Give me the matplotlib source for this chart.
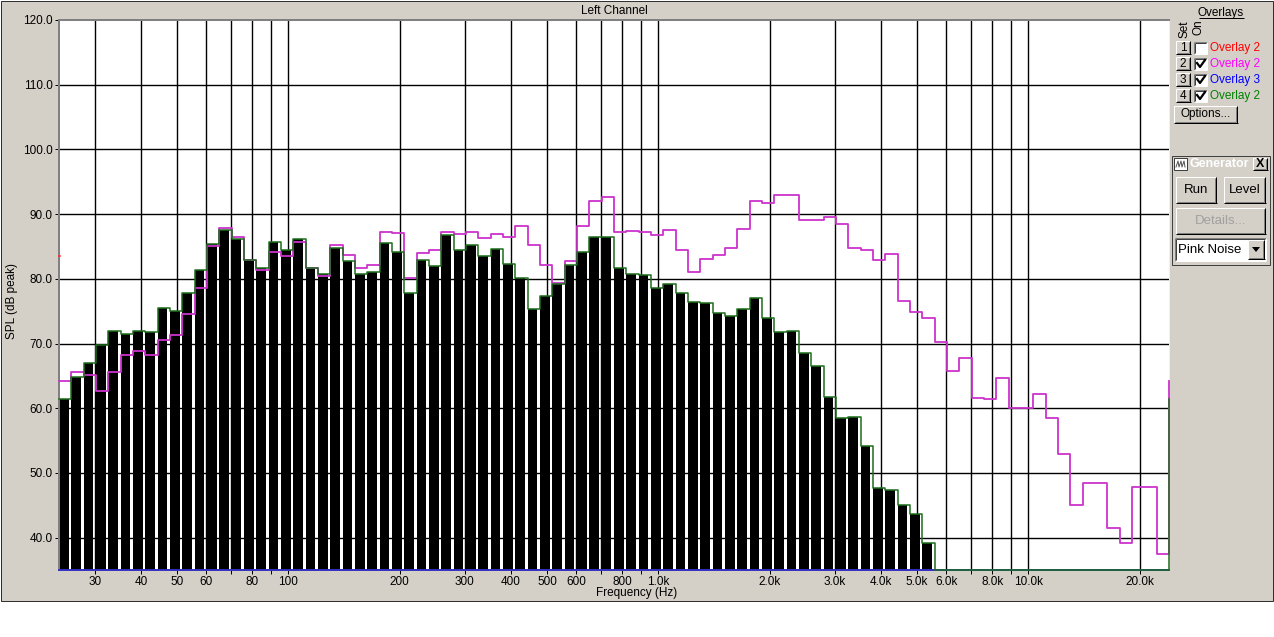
import numpy as np
import matplotlib
matplotlib.use("Agg")
import matplotlib.pyplot as plt
from matplotlib.patches import Rectangle, Polygon
from matplotlib.lines import Line2D

# ---------------- data ----------------
BAND_START_HZ = 24.0          # analyzer bands: 1/30 decade from 24 Hz
BANDS_PER_DECADE = 30
N_BANDS = 90

# current measurement (black bars, outlined by the green overlay)
spl_bars = [61.4, 64.9, 67.0, 69.7, 72.0, 71.4, 72.0, 71.8, 75.5, 75.0,
            77.8, 81.3, 85.4, 87.6, 86.2, 82.9, 81.6, 85.7, 84.5, 86.2,
            81.7, 80.8, 84.7, 82.8, 80.8, 81.1, 85.5, 84.2, 77.8, 82.9,
            82.0, 86.7, 84.5, 85.2, 83.5, 84.6, 82.3, 80.1, 75.4, 77.4,
            79.2, 82.2, 84.2, 86.5, 86.5, 81.7, 80.7, 80.6, 78.6, 79.2,
            77.8, 76.4, 76.3, 74.7, 74.3, 75.4, 77.1, 74.0, 71.8, 71.9,
            68.6, 66.5, 61.7, 58.5, 58.6, 54.2, 47.6, 47.4, 45.1, 43.7,
            39.1]
# green overlay beyond the bars sits on the floor of the plot
overlay_green_tail = [35.0, 35.0, 35.0, 35.0, 35.0, 35.0, 35.0, 35.0, 35.0, 35.0,
                      35.0, 35.0, 35.0, 35.0, 35.0, 35.0, 35.0, 35.0, 35.0]
overlay_green_end = 61.5

# magenta overlay (set 2)
overlay_magenta = [64.2, 65.6, 65.2, 62.7, 65.6, 68.3, 68.8, 68.3, 70.5, 71.3,
                   74.5, 78.6, 85.1, 87.9, 86.5, 82.9, 81.4, 84.2, 83.5, 85.7,
                   81.7, 80.4, 85.2, 83.7, 81.7, 82.2, 87.3, 87.1, 80.1, 84.0,
                   84.5, 87.3, 87.0, 87.2, 86.3, 86.9, 86.5, 88.2, 85.2, 82.2,
                   79.3, 82.7, 88.2, 92.1, 92.7, 87.3, 87.4, 87.2, 86.8, 87.5,
                   84.5, 81.1, 83.1, 83.7, 84.8, 87.7, 92.0, 91.7, 92.9, 92.9,
                   89.1, 89.1, 89.5, 88.5, 84.7, 84.5, 82.9, 83.8, 76.5, 74.9,
                   73.9, 70.3, 65.7, 67.7, 61.6, 61.5, 64.7, 60.1, 60.0, 62.2,
                   58.5, 53.0, 45.1, 48.5, 48.4, 41.5, 39.1, 47.9, 47.9, 37.4]
overlay_magenta_end = 64.2

# blue overlay (set 3) lies on the floor
overlay_blue_level = 35.0
# red overlay (set 1, hidden) leaves a trace at the left edge
overlay_red_start = 83.5

x_tick_values = [30, 40, 50, 60, 70, 80, 90, 100, 200, 300, 400, 500, 600, 700,
                 800, 900, 1000, 2000, 3000, 4000, 5000, 6000, 7000, 8000, 9000,
                 10000, 20000]
x_tick_labels = ["30", "40", "50", "60", "", "80", "", "100", "200", "300", "400",
                 "500", "600", "", "800", "", "1.0k", "2.0k", "3.0k", "4.0k",
                 "5.0k", "6.0k", "", "8.0k", "", "10.0k", "20.0k"]
y_tick_values = [40, 50, 60, 70, 80, 90, 100, 110, 120]

overlay_names = ["Overlay 2", "Overlay 2", "Overlay 3", "Overlay 2"]
overlay_colors = ["#ff0000", "#ff00ff", "#0000ff", "#008000"]
overlay_checked = [False, True, True, True]

# ---------------- figure ----------------
W, H = 1274, 637
FONT = "Liberation Sans"
FS = 8.5
plt.rcParams["font.family"] = [FONT, "DejaVu Sans"]

fig = plt.figure(figsize=(W / 100, H / 100), dpi=100)
fig.patch.set_facecolor("white")

def fx(x):
    return x / W

def fy(y):
    return 1 - y / H

PX = 0.72  # one pixel in points

def frect(x0, y0, x1, y1, **kw):
    r = Rectangle((fx(x0), fy(y1)), (x1 - x0) / W, (y1 - y0) / H,
                  transform=fig.transFigure, **kw)
    fig.add_artist(r)
    return r

def fline(xs, ys, color, lw=1, z=5):
    fig.add_artist(Line2D([fx(v) for v in xs], [fy(v) for v in ys], color=color,
                          lw=lw * PX, transform=fig.transFigure, zorder=z,
                          solid_capstyle="butt"))

# gray window background with dark frame
frect(0.5, 0.5, 1272.5, 600.5, facecolor="#d4d0c8", edgecolor="#303030",
      lw=PX, zorder=0)

# ---------------- plot ----------------
L, T, R, B = 59, 20, 1169, 570
ax = fig.add_axes([fx(L), fy(B), (R - L) / W, (B - T) / H])
ax.set_facecolor("white")
ax.set_xscale("log")
f_lo = BAND_START_HZ
f_hi = BAND_START_HZ * 10 ** (N_BANDS / BANDS_PER_DECADE)
ax.set_xlim(f_lo, f_hi)
ax.set_ylim(35, 120)

edges = BAND_START_HZ * 10 ** (np.arange(N_BANDS + 1) / BANDS_PER_DECADE)

# grid
ax.set_axisbelow(True)
for v in y_tick_values[:-1]:
    ax.axhline(v, color="black", lw=1.0, zorder=1)
for v in x_tick_values:
    ax.axvline(v, color="black", lw=1.0, zorder=1)

# bars
nb = len(spl_bars)
left = edges[:nb]
bar_w = left * (10 ** (0.78 / BANDS_PER_DECADE) - 1)
ax.bar(left, spl_bars, width=bar_w, align="edge", color="black", lw=0,
       zorder=2)

# blue overlay on the floor
blue_vals = [overlay_blue_level] * N_BANDS
ax.step(edges, blue_vals + [blue_vals[-1]], where="post", color="#3030c0",
        lw=1.4, zorder=3, clip_on=False)

# magenta overlay
mag_x = list(edges) + [edges[-1]]
mag_y = overlay_magenta + [overlay_magenta[-1], overlay_magenta_end]
ax.step(mag_x, mag_y, where="post", color="#cc33cc", lw=1.3, zorder=4,
        clip_on=False)

# green overlay outline
green_vals = spl_bars + overlay_green_tail
g_x = list(edges) + [edges[-1]]
g_y = green_vals + [green_vals[-1], overlay_green_end]
ax.step(g_x, g_y, where="post", color="#1c6e1c", lw=1.1, zorder=5,
        clip_on=False)

# red trace
ax.plot([edges[0], edges[0] * 1.008], [overlay_red_start] * 2, color="#ff3030",
        lw=1.2, zorder=6, clip_on=False)

# axes styling
ax.set_xticks(x_tick_values)
ax.set_xticklabels(x_tick_labels)
ax.xaxis.set_minor_locator(matplotlib.ticker.NullLocator())
ax.set_yticks(y_tick_values)
ax.set_yticklabels(["%.1f" % v for v in y_tick_values])
ax.tick_params(axis="both", direction="out", length=3, width=PX, color="black",
               labelsize=FS, pad=1.5)
ax.tick_params(axis="x", pad=1.5)
for s in ("top", "left"):
    ax.spines[s].set_color("#808080")
    ax.spines[s].set_linewidth(2 * PX)
for s in ("bottom", "right"):
    ax.spines[s].set_color("#f0f0f0")
    ax.spines[s].set_linewidth(1 * PX)

ax.set_title("Left Channel", fontsize=FS, pad=4)
fig.text(fx(637), fy(593), "Frequency (Hz)", ha="center", va="center",
         fontsize=FS)
fig.text(fx(12), fy(301), "SPL (dB peak)", ha="center", va="center",
         rotation=90, fontsize=FS)

# ---------------- right control panel ----------------
def raised(x0, y0, x1, y1, face="#d4d0c8"):
    frect(x0, y0, x1, y1, facecolor=face, edgecolor="none", zorder=3)
    fline([x0, x1], [y0, y0], "white")
    fline([x0, x0], [y0, y1], "white")
    fline([x0, x1 + 0.5], [y1, y1], "black")
    fline([x1, x1], [y0, y1], "black")
    fline([x0 + 1, x1 - 1], [y1 - 1, y1 - 1], "#808080")
    fline([x1 - 1, x1 - 1], [y0 + 1, y1 - 1], "#808080")

def sunken(x0, y0, x1, y1, face="white"):
    frect(x0, y0, x1, y1, facecolor=face, edgecolor="none", zorder=3)
    fline([x0, x1], [y0, y0], "#808080")
    fline([x0, x0], [y0, y1], "#808080")
    fline([x0 + 1, x1 - 1], [y0 + 1, y0 + 1], "#404040")
    fline([x0 + 1, x0 + 1], [y0 + 1, y1 - 1], "#404040")
    fline([x0, x1], [y1, y1], "white")
    fline([x1, x1], [y0, y1], "white")

fig.text(fx(1221), fy(13), "Overlays", ha="center", va="center", fontsize=FS)
fline([1199, 1244], [18, 18], "black")
fig.text(fx(1184), fy(29), "Set", ha="center", va="center", rotation=90,
         fontsize=FS)
fig.text(fx(1198), fy(27), "On", ha="center", va="center", rotation=90,
         fontsize=FS)

for i, (name, col, chk) in enumerate(zip(overlay_names, overlay_colors,
                                         overlay_checked)):
    yc = 48 + 16 * i
    raised(1176, yc - 7, 1190, yc + 6)
    fig.text(fx(1183), fy(yc), str(i + 1), ha="center", va="center",
             fontsize=FS, zorder=6)
    sunken(1194, yc - 6, 1207, yc + 6)
    if chk:
        fig.add_artist(Line2D([fx(1197), fx(1200), fx(1205)],
                              [fy(yc - 1), fy(yc + 3), fy(yc - 4)],
                              color="black", lw=1.6, transform=fig.transFigure,
                              zorder=7))
    fig.text(fx(1210), fy(yc), name, ha="left", va="center", fontsize=FS,
             color=col)

raised(1174, 106, 1237, 123)
fig.text(fx(1205.5), fy(114.5), "Options...", ha="center", va="center",
         fontsize=FS, zorder=6)

# generator panel
frect(1172, 156, 1270, 265, facecolor="#d4d0c8", edgecolor="#404040",
      lw=PX, zorder=2)
gax = fig.add_axes([fx(1173), fy(172), (1269 - 1173) / W, (172 - 157) / H])
grad = np.linspace(0, 1, 200)[None, :]
c0 = np.array([0x80, 0x80, 0x80]) / 255
c1 = np.array([0xc8, 0xc8, 0xc8]) / 255
img = c0[None, None, :] * (1 - grad[..., None]) + c1[None, None, :] * grad[..., None]
gax.imshow(img, aspect="auto", extent=[0, 1, 0, 1])
gax.set_axis_off()
frect(1174, 158, 1187, 170, facecolor="white", edgecolor="#404040", lw=PX, zorder=8)
fig.add_artist(Line2D([fx(v) for v in [1176, 1178, 1179, 1181, 1182, 1184, 1185]],
                      [fy(v) for v in [167, 161, 167, 161, 167, 161, 167]],
                      color="#505050", lw=0.7, transform=fig.transFigure, zorder=9))
fig.text(fx(1190), fy(164), "Generator", ha="left", va="center", fontsize=FS + 0.5,
         color="white", fontweight="bold", zorder=9)
raised(1253, 158, 1267, 170)
fig.text(fx(1260), fy(164), "X", ha="center", va="center", fontsize=FS + 0.5,
         fontweight="bold", zorder=9)

raised(1176, 177, 1216, 203)
fig.text(fx(1196), fy(190), "Run", ha="center", va="center", fontsize=FS + 1,
         zorder=6)
raised(1224, 177, 1265, 203)
fig.text(fx(1244.5), fy(190), "Level", ha="center", va="center", fontsize=FS + 1,
         zorder=6)
raised(1176, 208, 1265, 234)
fig.text(fx(1220.5), fy(221), "Details...", ha="center", va="center",
         fontsize=FS + 1, color="#a0a0a0", zorder=6)
sunken(1175, 238, 1266, 261)
fig.text(fx(1178), fy(249.5), "Pink Noise", ha="left", va="center",
         fontsize=FS + 1, zorder=6)
raised(1248, 240, 1264, 259)
fig.add_artist(Polygon([[fx(1252), fy(247)], [fx(1260), fy(247)], [fx(1256), fy(252)]],
                       closed=True, facecolor="black", edgecolor="none",
                       transform=fig.transFigure, zorder=9))

fig.savefig("out.png", dpi=100, facecolor=fig.get_facecolor())
